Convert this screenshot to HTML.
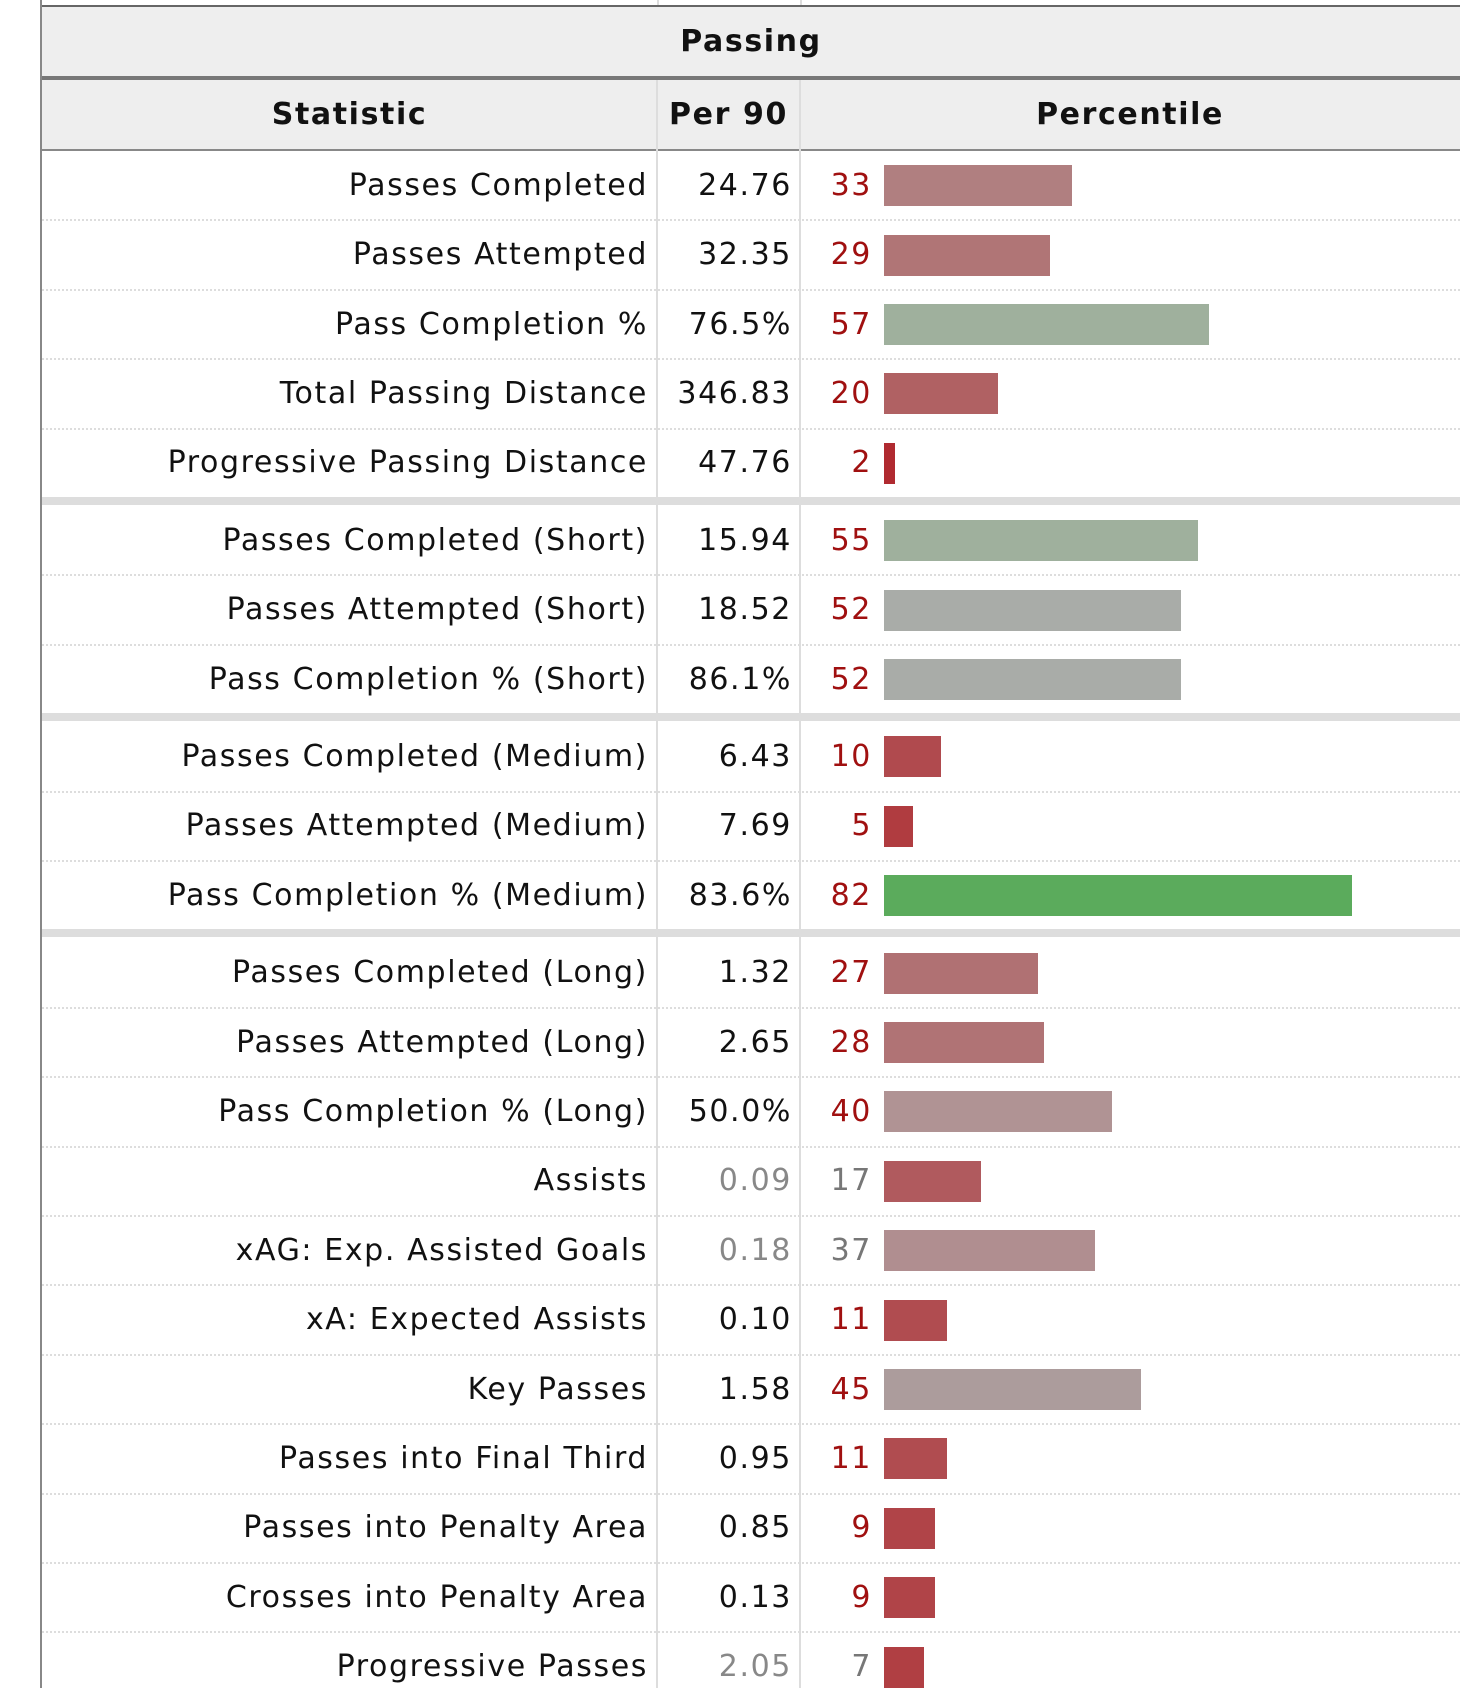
<!DOCTYPE html>
<html><head><meta charset="utf-8"><style>
body{margin:0;width:1460px;height:1688px;background:#fff;overflow:hidden;font-family:"DejaVu Sans","Liberation Sans",sans-serif;position:relative}
.a{position:absolute}
.t{position:absolute;font-size:30px;line-height:40px;white-space:nowrap;color:#111;letter-spacing:1.6px}
</style></head><body>
<div class="a" style="left:41px;top:5px;width:1419px;height:2px;background:#666"></div>
<div class="a" style="left:657px;top:0;width:2px;height:5px;background:#ddd"></div>
<div class="a" style="left:800px;top:0;width:2px;height:5px;background:#ddd"></div>
<div class="a" style="left:40px;top:0;width:2px;height:1688px;background:#888"></div>
<div class="a" style="left:42px;top:7px;width:1418px;height:69px;background:#eee"></div>
<div class="t" style="left:42px;width:1418px;top:22px;text-align:center;font-weight:bold">Passing</div>
<div class="a" style="left:42px;top:76px;width:1418px;height:4px;background:#777"></div>
<div class="a" style="left:42px;top:80px;width:1418px;height:69px;background:#eee"></div>
<div class="t" style="left:42px;width:615px;top:95px;text-align:center;font-weight:bold">Statistic</div>
<div class="t" style="left:657px;width:143px;top:95px;text-align:center;font-weight:bold">Per 90</div>
<div class="t" style="left:800px;width:660px;top:95px;text-align:center;font-weight:bold">Percentile</div>
<div class="a" style="left:42px;top:149px;width:1418px;height:2px;background:#888"></div>
<div class="a" style="left:656px;top:80px;width:2px;height:1608px;background:#ddd"></div>
<div class="a" style="left:799px;top:80px;width:2px;height:1608px;background:#ddd"></div>
<div id="rows"></div>
<script>
const labels=["Passes Completed","Passes Attempted","Pass Completion %","Total Passing Distance","Progressive Passing Distance","Passes Completed (Short)","Passes Attempted (Short)","Pass Completion % (Short)","Passes Completed (Medium)","Passes Attempted (Medium)","Pass Completion % (Medium)","Passes Completed (Long)","Passes Attempted (Long)","Pass Completion % (Long)","Assists","xAG: Exp. Assisted Goals","xA: Expected Assists","Key Passes","Passes into Final Third","Passes into Penalty Area","Crosses into Penalty Area","Progressive Passes"];
const per90=["24.76","32.35","76.5%","346.83","47.76","15.94","18.52","86.1%","6.43","7.69","83.6%","1.32","2.65","50.0%","0.09","0.18","0.10","1.58","0.95","0.85","0.13","2.05"];
const percentiles=[33,29,57,20,2,55,52,52,10,5,82,27,28,40,17,37,11,45,11,9,9,7];
const muted=[0,0,0,0,0,0,0,0,0,0,0,0,0,0,1,1,0,0,0,0,0,1];
const groupEnds=[4,7,10];
const barColors=["#b07f80","#b07576","#9fb09d","#b06163","#b02a30","#9fb09d","#a9aca8","#a9aca8","#b04a4e","#b03c40","#5bab5c","#b07173","#b07375","#b09394","#b05a5e","#b08e90","#b04c50","#ac9c9c","#b04c50","#b04448","#b04448","#b03f43"];
const root=document.getElementById('rows');
const rowH=69.4, band=8, barX=884, pxPer=5.71, barH=41;
let y=151;
function xScale(v){return v*pxPer;}
for(let i=0;i<labels.length;i++){
  const c=y+rowH/2;
  const lab=document.createElement('div');lab.className='t';
  
  
  lab.style.cssText=`right:${1460-648}px;top:${c-20}px;text-align:right`;lab.textContent=labels[i];root.appendChild(lab);
  const pv=document.createElement('div');pv.className='t';
  
  
  pv.style.cssText=`right:${1460-792}px;top:${c-20}px;color:${muted[i]?'#888':'#111'}`;pv.textContent=per90[i];root.appendChild(pv);
  const pc=document.createElement('div');pc.className='t';
  
  
  pc.style.cssText=`right:${1460-872}px;top:${c-20}px;color:${muted[i]?'#777':'#a01010'}`;pc.textContent=percentiles[i];root.appendChild(pc);
  const bar=document.createElement('div');bar.className='a';
  
  
  bar.style.cssText=`left:${barX}px;top:${c-barH/2}px;height:${barH}px;width:${Math.max(5,xScale(percentiles[i]))}px;background:${barColors[i]}`;root.appendChild(bar);
  y+=rowH;
  if(groupEnds.includes(i)){
    const b=document.createElement('div');b.className='a';
    
    
    b.style.cssText=`left:42px;top:${y-1}px;width:1418px;height:${band}px;background:#ddd`;root.appendChild(b);
    y+=band;
  } else if(i<labels.length-1){
    const d=document.createElement('div');d.className='a';
    
    
    d.style.cssText=`left:42px;top:${y-1}px;width:1418px;height:0;border-top:2px dotted #ddd`;root.appendChild(d);
  }
}
</script>
</body></html>
